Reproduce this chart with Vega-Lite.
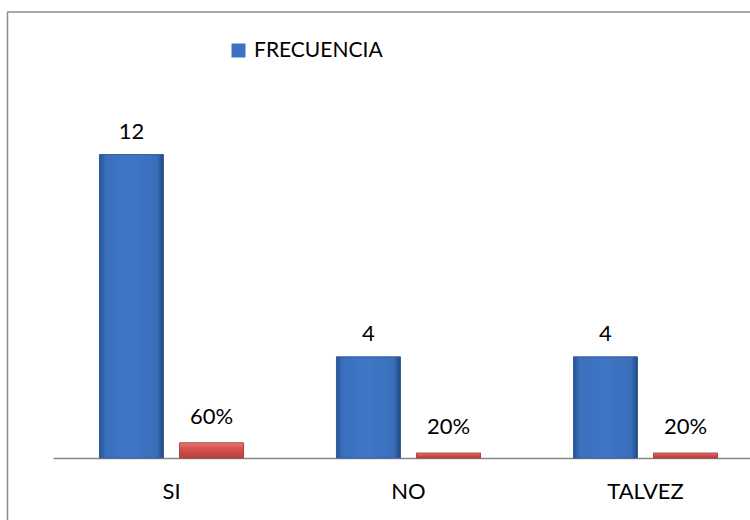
{
  "$schema": "https://vega.github.io/schema/vega-lite/v6.json",
  "autosize": "none",
  "padding": {"left": 7, "top": 12, "right": 0, "bottom": 0},
  "width": 743,
  "height": 508,
  "background": "white",
  "config": {
    "view": {"stroke": null},
    "font": "Lato"
  },
  "data": {
    "values": [
      {"categoria": "SI", "serie": "FRECUENCIA", "valor": 12},
      {"categoria": "SI", "serie": "PORCENTAJE", "valor": 0.6},
      {"categoria": "NO", "serie": "FRECUENCIA", "valor": 4},
      {"categoria": "NO", "serie": "PORCENTAJE", "valor": 0.2},
      {"categoria": "TALVEZ", "serie": "FRECUENCIA", "valor": 4},
      {"categoria": "TALVEZ", "serie": "PORCENTAJE", "valor": 0.2}
    ]
  },
  "layer": [
    {
      "encoding": {
        "x": {
          "field": "categoria",
          "type": "nominal",
          "sort": ["SI", "NO", "TALVEZ"],
          "scale": {"range": [46, 757], "paddingInner": 0, "paddingOuter": 0},
          "axis": {
            "title": null,
            "offset": -62,
            "domainColor": "#868686",
            "domainWidth": 1.5,
            "ticks": false,
            "labelAngle": 0,
            "labelFont": "Lato",
            "labelFontSize": 22,
            "labelColor": "#000000",
            "labelPadding": 23
          }
        },
        "xOffset": {
          "field": "serie",
          "type": "nominal",
          "sort": ["FRECUENCIA", "PORCENTAJE"],
          "scale": {"paddingInner": 0.2, "paddingOuter": 0.58}
        },
        "y": {
          "field": "valor",
          "type": "quantitative",
          "scale": {"domain": [-2.452, 17.638], "nice": false, "zero": false},
          "axis": {
            "title": null,
            "labels": false,
            "ticks": false,
            "grid": false,
            "domain": true,
            "domainColor": "#8C8C8C",
            "domainWidth": 1.5
          }
        }
      },
      "layer": [
        {
          "mark": {"type": "bar"},
          "encoding": {
            "color": {
              "field": "serie",
              "type": "nominal",
              "scale": {"domain": ["FRECUENCIA", "PORCENTAJE"], "range": ["#3C72C1", "#D24B48"]},
              "legend": {
                "values": ["FRECUENCIA"],
                "title": null,
                "orient": "none",
                "legendX": 221,
                "legendY": 28,
                "padding": 0,
                "symbolType": "square",
                "symbolSize": 196,
                "symbolStrokeWidth": 0,
                "labelFont": "Lato",
                "labelFontSize": 21,
                "labelColor": "#000000",
                "labelOffset": 5
              }
            }
          }
        },
        {
          "transform": [{"filter": "datum.serie === 'FRECUENCIA'"}],
          "mark": {
            "type": "bar",
            "stroke": "#2C5796",
            "strokeWidth": 0.8,
            "color": {
              "gradient": "linear",
              "x1": 0, "y1": 0, "x2": 1, "y2": 0,
              "stops": [
                {"offset": 0, "color": "#28528F"},
                {"offset": 0.1, "color": "#3A70BE"},
                {"offset": 0.5, "color": "#3F77C6"},
                {"offset": 0.9, "color": "#396EBA"},
                {"offset": 1, "color": "#22487F"}
              ]
            }
          }
        },
        {
          "transform": [{"filter": "datum.serie === 'PORCENTAJE'"}],
          "mark": {
            "type": "bar",
            "stroke": "#A03A37",
            "strokeWidth": 0.8,
            "color": {
              "gradient": "linear",
              "x1": 0, "y1": 0, "x2": 0, "y2": 1,
              "stops": [
                {"offset": 0, "color": "#E67C79"},
                {"offset": 0.35, "color": "#D9534F"},
                {"offset": 1, "color": "#B8403D"}
              ]
            }
          }
        },
        {
          "transform": [{"filter": "datum.serie === 'FRECUENCIA'"}],
          "mark": {"type": "text", "baseline": "middle", "dy": -23, "fontSize": 22, "font": "Lato", "color": "#000000"},
          "encoding": {"text": {"field": "valor", "type": "quantitative", "format": "d"}}
        },
        {
          "transform": [{"filter": "datum.serie === 'PORCENTAJE'"}],
          "mark": {"type": "text", "baseline": "middle", "dy": -26, "fontSize": 22, "font": "Lato", "color": "#000000"},
          "encoding": {"text": {"field": "valor", "type": "quantitative", "format": ".0%"}}
        }
      ]
    },
    {
      "data": {"values": [{"borde": "superior"}]},
      "mark": {"type": "rule", "color": "#8C8C8C", "strokeWidth": 1.5},
      "encoding": {"y": {"datum": 17.638, "type": "quantitative"}}
    }
  ]
}
